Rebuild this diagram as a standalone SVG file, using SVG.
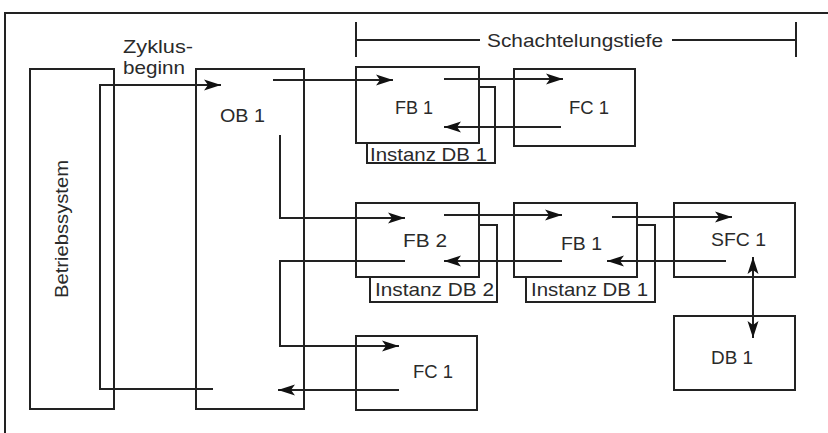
<svg xmlns="http://www.w3.org/2000/svg" width="828" height="433" viewBox="0 0 828 433">
<style>
.box{fill:#fff;stroke:#222;stroke-width:2}
.ln{fill:none;stroke:#222;stroke-width:2}
.c{fill:none;stroke:#222;stroke-width:2;marker-end:url(#ah)}
text{font-family:"Liberation Sans",Arial,sans-serif;font-size:19px;fill:#2a2a2a}
</style>
<defs>
<marker id="ah" markerUnits="userSpaceOnUse" markerWidth="20" markerHeight="14" refX="18" refY="7" orient="auto-start-reverse">
<path d="M1,1.5 L18,7 L1,12.5 L5,7 z" fill="#111"/>
</marker>
</defs>
<rect width="828" height="433" fill="#fff"/>
<g id="frame">
<path class="ln" d="M5,433 V13 H828"/>
</g>
<g id="nesting-depth">
<path class="ln" d="M356,22 V57 M796,22 V57 M356,40 H480 M672,40 H796"/>
<text x="487" y="47" textLength="176" lengthAdjust="spacingAndGlyphs">Schachtelungstiefe</text>
</g>
<g id="betriebssystem">
<rect class="box" x="30" y="69" width="84" height="340"/>
<text transform="translate(68,298) rotate(-90)" x="0" y="0" textLength="138" lengthAdjust="spacingAndGlyphs">Betriebssystem</text>
</g>
<g id="zyklus-label">
<text x="123" y="53" textLength="70" lengthAdjust="spacingAndGlyphs">Zyklus-</text>
<text x="123" y="74" textLength="62" lengthAdjust="spacingAndGlyphs">beginn</text>
</g>
<g id="ob1">
<rect class="box" x="196" y="69" width="108" height="340"/>
<text x="220" y="122" textLength="45" lengthAdjust="spacingAndGlyphs">OB 1</text>
</g>
<g id="fb1-top">
<rect class="box" x="367" y="87" width="128" height="76"/>
<text x="370" y="161" textLength="117" lengthAdjust="spacingAndGlyphs">Instanz DB 1</text>
<rect class="box" x="356" y="67" width="123" height="76"/>
<text x="395" y="114" textLength="38" lengthAdjust="spacingAndGlyphs">FB 1</text>
</g>
<g id="fc1-top">
<rect class="box" x="514" y="69" width="121" height="77"/>
<text x="569" y="114" textLength="40" lengthAdjust="spacingAndGlyphs">FC 1</text>
</g>
<g id="fb2">
<rect class="box" x="370" y="225" width="127" height="77"/>
<text x="375" y="296" textLength="119" lengthAdjust="spacingAndGlyphs">Instanz DB 2</text>
<rect class="box" x="356" y="203" width="123" height="74"/>
<text x="403" y="247" textLength="44" lengthAdjust="spacingAndGlyphs">FB 2</text>
</g>
<g id="fb1-mid">
<rect class="box" x="526" y="225" width="129" height="77"/>
<text x="531" y="296" textLength="117" lengthAdjust="spacingAndGlyphs">Instanz DB 1</text>
<rect class="box" x="514" y="203" width="123" height="74"/>
<text x="561" y="250" textLength="41" lengthAdjust="spacingAndGlyphs">FB 1</text>
</g>
<g id="sfc1">
<rect class="box" x="674" y="203" width="121" height="74"/>
<text x="711" y="246" textLength="55" lengthAdjust="spacingAndGlyphs">SFC 1</text>
</g>
<g id="db1">
<rect class="box" x="674" y="316" width="121" height="74"/>
<text x="711" y="364" textLength="42" lengthAdjust="spacingAndGlyphs">DB 1</text>
</g>
<g id="fc1-bottom">
<rect class="box" x="356" y="336" width="121" height="74"/>
<text x="413" y="378" textLength="40" lengthAdjust="spacingAndGlyphs">FC 1</text>
</g>
<g id="connectors">
<path class="c" d="M213,389 H100 V85 H221"/>
<path class="c" d="M273,80 H393"/>
<path class="c" d="M280,135 V218 H405"/>
<path class="c" d="M405,261 H280 V346 H399"/>
<path class="c" d="M399,390 H278"/>
<path class="c" d="M444,79 H563"/>
<path class="c" d="M561,127 H444"/>
<path class="c" d="M444,215 H562"/>
<path class="c" d="M562,261 H444"/>
<path class="c" d="M612,217 H732"/>
<path class="c" d="M726,261 H607"/>
<path class="c" d="M753,257 V338" style="marker-start:url(#ah)"/>
</g>
</svg>
